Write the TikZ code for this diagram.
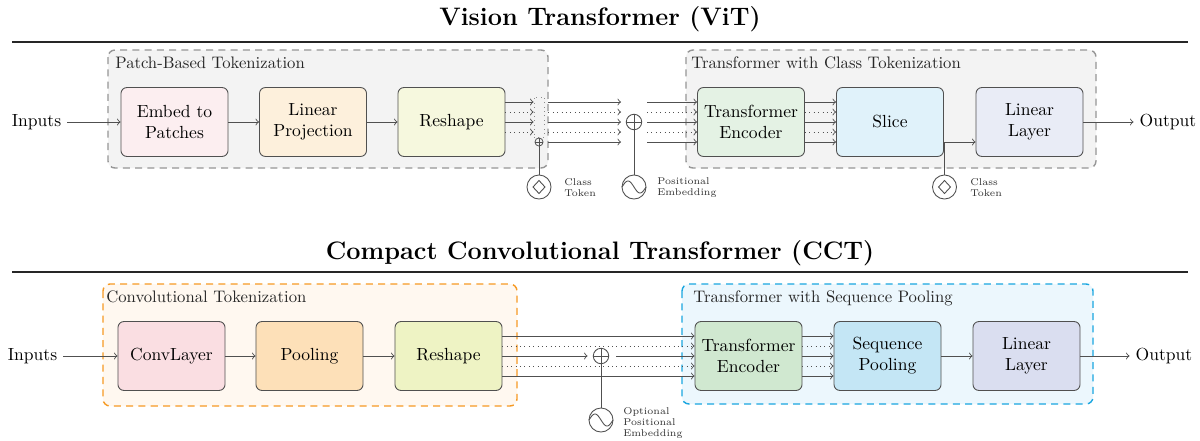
\documentclass[tikz,border=0pt]{standalone}
\usetikzlibrary{calc}

% block fills
\definecolor{cEmbed}{RGB}{252,238,240}
\definecolor{cLin}{RGB}{253,240,220}
\definecolor{cResA}{RGB}{246,248,222}
\definecolor{cTEa}{RGB}{228,242,228}
\definecolor{cSlice}{RGB}{224,242,250}
\definecolor{cLLa}{RGB}{233,236,246}
\definecolor{cConv}{RGB}{250,222,226}
\definecolor{cPool}{RGB}{253,224,184}
\definecolor{cResB}{RGB}{238,243,196}
\definecolor{cTEb}{RGB}{208,232,208}
\definecolor{cSeq}{RGB}{196,230,245}
\definecolor{cLLb}{RGB}{218,222,240}
% group frames
\definecolor{gGrayFill}{RGB}{243,243,243}
\definecolor{gGrayLine}{RGB}{150,150,150}
\definecolor{gOrFill}{RGB}{255,248,240}
\definecolor{gOrLine}{RGB}{246,154,36}
\definecolor{gCyFill}{RGB}{236,247,253}
\definecolor{gCyLine}{RGB}{26,166,224}
\definecolor{lineC}{RGB}{80,80,80}

\begin{document}
\begin{tikzpicture}[x=0.57pt,y=0.57pt,
  block/.style={draw=lineC, rounded corners=3.4pt, minimum width=61pt,
    minimum height=39.3pt, align=center, line width=0.5pt, inner sep=2pt},
  grp/.style={rounded corners=4pt, dash pattern=on 4pt off 3pt, line width=0.8pt},
  grplab/.style={font=\fontsize{9.5}{11}\selectfont, anchor=base west, inner sep=0pt, text=black!85},
  link/.style={draw=lineC, line width=0.5pt, ->},
  dline/.style={link, dotted},
  icon/.style={circle, draw=lineC, line width=0.5pt, minimum size=13.7pt, inner sep=0pt},
  summer/.style={circle, draw=lineC, line width=0.5pt, minimum size=8.8pt, inner sep=0pt},
  smallsum/.style={circle, draw=lineC, line width=0.45pt, minimum size=4.6pt, inner sep=0pt},
  note/.style={font=\fontsize{5.6}{6.3}\selectfont, align=left, anchor=west, inner sep=0pt, text=black!80},
  rulebar/.style={line width=1.2pt, black!85},
  heading/.style={font=\Large\bfseries}
]
\useasboundingbox[fill=white] (0,0) rectangle (1200,-440);

% ---------------- Vision Transformer ----------------
\node[heading] (titleA) at (600,-19) {Vision Transformer (ViT)};
\draw[rulebar] (12,-42) -- (1188,-42);

\draw[grp, draw=gGrayLine, fill=gGrayFill] (108,-50) rectangle (548,-168);
\draw[grp, draw=gGrayLine, fill=gGrayFill] (686,-50) rectangle (1096,-168);
\node[grplab] (labPatch) at (115,-68) {Patch-Based Tokenization};
\node[grplab] (labClass) at (691,-68) {Transformer with Class Tokenization};

\node (inA) at (36.5,-122) {Inputs};
\node[block, fill=cEmbed] (emb) at (174.5,-122) {Embed to\\Patches};
\node[block, fill=cLin] (lin) at (313,-122) {Linear\\Projection};
\node[block, fill=cResA] (resA) at (451.5,-122) {Reshape};
\node[block, fill=cTEa] (teA) at (751,-122) {Transformer\\Encoder};
\node[block, fill=cSlice] (slice) at (890,-122) {Slice};
\node[block, fill=cLLa] (llA) at (1029.5,-122) {Linear\\Layer};
\node (outA) at (1168,-122) {Output};

\draw[link] (inA) -- (emb);
\draw[link] (emb) -- (lin);
\draw[link] (lin) -- (resA);

% token stack receiving the class token
\node[draw=black!45, dotted, line width=0.5pt, minimum width=5.7pt,
  minimum height=22.8pt, inner sep=0pt] (tok) at (539,-117) {};
\foreach \dy/\sty in {20/link,10/dline,0/link,-10/dline}
  \draw[\sty] ($(resA.east)+(0,\dy)$) -- ($(tok.west|-resA.east)+(0,\dy)$);
\node[smallsum] (oplA) at (539,-142) {};
\draw[lineC, line width=0.45pt] (oplA.north) -- (oplA.south) (oplA.west) -- (oplA.east);
\node[icon] (ctA) at (539,-187) {};
\draw[lineC, line width=0.5pt] ($(ctA)+(0,6.5)$) -- ++(6,-6.5) -- ++(-6,-6.5) -- ++(-6,6.5) -- cycle;
\draw[lineC, line width=0.5pt] (ctA) -- (oplA);
\node[note] (ctAlab) at (564,-188) {Class\\Token};

% positional embedding
\node[summer] (posA) at (634,-122) {};
\draw[lineC, line width=0.5pt] (posA.north) -- (posA.south) (posA.west) -- (posA.east);
\coordinate (preA) at (621,-122);
\coordinate (postA) at (647,-122);
\foreach \dy/\sty in {20/link,10/dline,0/link,-10/dline,-20/link}{
  \draw[\sty] ($(tok.east|-resA.east)+(4,\dy)$) -- ($(preA)+(0,\dy)$);
  \draw[\sty] ($(postA)+(0,\dy)$) -- ($(teA.west)+(0,\dy)$);
}
\node[icon] (peA) at (634,-187) {};
\draw[lineC, line width=0.5pt, shift={(peA)}] plot[domain=-12:12, samples=40, smooth] (\x,{-6*sin(\x*15)});
\draw[lineC, line width=0.5pt] (peA) -- (posA);
\node[note] (peAlab) at (657,-188) {Positional\\Embedding};

\foreach \dy/\sty in {20/link,10/dline,0/link,-10/dline,-20/link}
  \draw[\sty] ($(teA.east)+(0,\dy)$) -- ($(slice.west)+(0,\dy)$);

% class token taken out of the sequence
\node[icon] (ctB) at (944.5,-187) {};
\draw[lineC, line width=0.5pt] ($(ctB)+(0,6.5)$) -- ++(6,-6.5) -- ++(-6,-6.5) -- ++(-6,6.5) -- cycle;
\draw[link] (ctB) |- ($(llA.west)+(0,-20)$);
\node[note] (ctBlab) at (970,-188) {Class\\Token};
\draw[link] (llA) -- (outA);

% ---------------- Compact Convolutional Transformer ----------------
\node[heading] (titleB) at (600,-253) {Compact Convolutional Transformer (CCT)};
\draw[rulebar] (12,-272) -- (1188,-272);

\draw[grp, draw=gOrLine, fill=gOrFill] (103,-284) rectangle (517,-406);
\draw[grp, draw=gCyLine, fill=gCyFill] (682,-284) rectangle (1093,-404);
\node[grplab] (labConv) at (106,-302) {Convolutional Tokenization};
\node[grplab] (labSeq) at (693,-302) {Transformer with Sequence Pooling};

\node (inB) at (32.5,-356) {Inputs};
\node[block, fill=cConv] (conv) at (171.5,-356) {ConvLayer};
\node[block, fill=cPool] (pool) at (309.5,-356) {Pooling};
\node[block, fill=cResB] (resB) at (448.5,-356) {Reshape};
\node[block, fill=cTEb] (teB) at (748.5,-356) {Transformer\\Encoder};
\node[block, fill=cSeq] (seq) at (887.5,-356) {Sequence\\Pooling};
\node[block, fill=cLLb] (llB) at (1026.5,-356) {Linear\\Layer};
\node (outB) at (1164,-356) {Output};

\draw[link] (inB) -- (conv);
\draw[link] (conv) -- (pool);
\draw[link] (pool) -- (resB);

\node[summer] (posB) at (601,-356) {};
\draw[lineC, line width=0.5pt] (posB.north) -- (posB.south) (posB.west) -- (posB.east);
\foreach \dy/\sty in {20/link,10/dline,-10/dline,-20/link}
  \draw[\sty] ($(resB.east)+(0,\dy)$) -- ($(teB.west)+(0,\dy)$);
\draw[link, shorten >=3pt] (resB) -- (posB);
\draw[link, shorten <=4pt] (posB) -- (teB);
\node[icon] (peB) at (601,-420) {};
\draw[lineC, line width=0.5pt, shift={(peB)}] plot[domain=-12:12, samples=40, smooth] (\x,{-6*sin(\x*15)});
\draw[lineC, line width=0.5pt] (peB) -- (posB);
\node[note] (peBlab) at (623,-423) {Optional\\Positional\\Embedding};

\foreach \dy/\sty in {20/link,10/dline,0/link,-10/dline,-20/link}
  \draw[\sty] ($(teB.east)+(0,\dy)$) -- ($(seq.west)+(0,\dy)$);
\draw[link] (seq) -- (llB);
\draw[link] (llB) -- (outB);
\end{tikzpicture}
\end{document}
